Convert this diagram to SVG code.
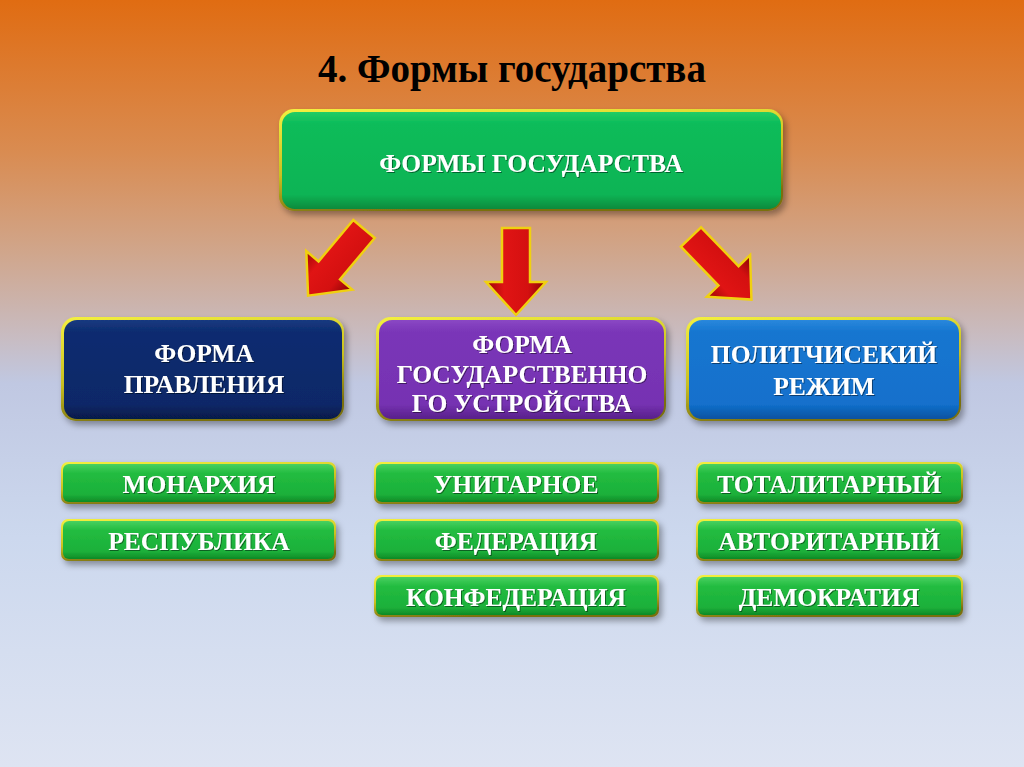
<svg xmlns="http://www.w3.org/2000/svg" width="1024" height="767" viewBox="0 0 1024 767">
  <defs>
    <linearGradient id="bg" x1="0" y1="0" x2="0" y2="1">
      <stop offset="0" stop-color="#e06c12"/>
      <stop offset="0.2" stop-color="#d98c52"/>
      <stop offset="0.33" stop-color="#d0a68c"/>
      <stop offset="0.44" stop-color="#c8bcc2"/>
      <stop offset="0.5" stop-color="#c0c8e2"/>
      <stop offset="0.7" stop-color="#ccd8ee"/>
      <stop offset="1" stop-color="#dee4f2"/>
    </linearGradient>
    <linearGradient id="rim" x1="0" y1="0" x2="0.3" y2="1">
      <stop offset="0" stop-color="#f4f040"/>
      <stop offset="0.6" stop-color="#c8c020"/>
      <stop offset="1" stop-color="#7a7010"/>
    </linearGradient>
    <linearGradient id="gTop" x1="0" y1="0" x2="0" y2="1">
      <stop offset="0" stop-color="#22cc66"/>
      <stop offset="0.12" stop-color="#0cbc5a"/>
      <stop offset="0.85" stop-color="#0ab455"/>
      <stop offset="1" stop-color="#078a3c"/>
    </linearGradient>
    <linearGradient id="gSmall" x1="0" y1="0" x2="0" y2="1">
      <stop offset="0" stop-color="#48d060"/>
      <stop offset="0.25" stop-color="#22bc40"/>
      <stop offset="0.8" stop-color="#1cb03a"/>
      <stop offset="1" stop-color="#0e8a26"/>
    </linearGradient>
    <linearGradient id="gNavy" x1="0" y1="0" x2="0" y2="1">
      <stop offset="0" stop-color="#1a3a80"/>
      <stop offset="0.12" stop-color="#0c2c70"/>
      <stop offset="0.85" stop-color="#0a2868"/>
      <stop offset="1" stop-color="#061a48"/>
    </linearGradient>
    <linearGradient id="gPurple" x1="0" y1="0" x2="0" y2="1">
      <stop offset="0" stop-color="#8a48c4"/>
      <stop offset="0.12" stop-color="#7a36b8"/>
      <stop offset="0.85" stop-color="#7632b2"/>
      <stop offset="1" stop-color="#58208a"/>
    </linearGradient>
    <linearGradient id="gBlue" x1="0" y1="0" x2="0" y2="1">
      <stop offset="0" stop-color="#2a88dc"/>
      <stop offset="0.12" stop-color="#1676d0"/>
      <stop offset="0.85" stop-color="#1270cc"/>
      <stop offset="1" stop-color="#0a52a0"/>
    </linearGradient>
    <linearGradient id="gArrow" x1="0" y1="0" x2="1" y2="0">
      <stop offset="0" stop-color="#9a0606"/>
      <stop offset="0.3" stop-color="#e01414"/>
      <stop offset="0.7" stop-color="#d41010"/>
      <stop offset="1" stop-color="#840404"/>
    </linearGradient>
    <filter id="sh" x="-10%" y="-10%" width="125%" height="135%">
      <feDropShadow dx="3" dy="4" stdDeviation="3" flood-color="#000" flood-opacity="0.35"/>
    </filter>
    <filter id="tsh" x="-5%" y="-20%" width="110%" height="150%">
      <feDropShadow dx="1" dy="1" stdDeviation="0.6" flood-color="#000" flood-opacity="0.45"/>
    </filter>
    <polygon id="arrow" points="-14,0 14,0 14,54 30,54 0,87 -30,54 -14,54"/>
  </defs>
  <style>
    .t { font-family: "Liberation Serif", "Times New Roman", serif; font-weight: bold; fill: #ffffff; text-anchor: middle; font-size: 25.5px; filter: url(#tsh); }
    .title { font-family: "Liberation Serif", "Times New Roman", serif; font-weight: bold; fill: #000000; text-anchor: middle; font-size: 39px; }
    .rim { fill: url(#rim); }
    .arr { fill: url(#gArrow); stroke: #f0d010; stroke-width: 2.5; stroke-linejoin: miter; }
  </style>

  <rect x="0" y="0" width="1024" height="767" fill="url(#bg)"/>

  <text class="title" x="512" y="82">4. Формы государства</text>

  <g id="node-top" filter="url(#sh)">
    <rect class="rim" x="279" y="109" width="504" height="102" rx="15"/>
    <rect x="282" y="112" width="499" height="97" rx="13" fill="url(#gTop)"/>
    <text class="t" x="531" y="172">ФОРМЫ ГОСУДАРСТВА</text>
  </g>

  <g id="connectors">
    <use href="#arrow" class="arr" transform="translate(364,229) rotate(40)"/>
    <use href="#arrow" class="arr" transform="translate(516,228)"/>
    <use href="#arrow" class="arr" transform="translate(691,237) rotate(-44)"/>
  </g>

  <g id="node-pravlenie" filter="url(#sh)">
    <rect class="rim" x="61" y="317" width="283" height="104" rx="15"/>
    <rect x="64" y="320" width="278" height="99" rx="13" fill="url(#gNavy)"/>
    <text class="t" x="204" y="362">ФОРМА</text>
    <text class="t" x="204" y="393">ПРАВЛЕНИЯ</text>
  </g>

  <g id="node-ustroystvo" filter="url(#sh)">
    <rect class="rim" x="376" y="317" width="290" height="104" rx="15"/>
    <rect x="379" y="320" width="285" height="99" rx="13" fill="url(#gPurple)"/>
    <text class="t" x="522" y="353">ФОРМА</text>
    <text class="t" x="522" y="383">ГОСУДАРСТВЕННО</text>
    <text class="t" x="522" y="412">ГО УСТРОЙСТВА</text>
  </g>

  <g id="node-rezhim" filter="url(#sh)">
    <rect class="rim" x="686" y="317" width="275" height="104" rx="15"/>
    <rect x="689" y="320" width="270" height="99" rx="13" fill="url(#gBlue)"/>
    <text class="t" x="824" y="363">ПОЛИТЧИСЕКИЙ</text>
    <text class="t" x="824" y="395">РЕЖИМ</text>
  </g>

  <g id="node-monarchy" filter="url(#sh)">
    <rect class="rim" x="61" y="462" width="275" height="42" rx="7"/>
    <rect x="63" y="464" width="271" height="38" rx="6" fill="url(#gSmall)"/>
    <text class="t" x="199" y="493">МОНАРХИЯ</text>
  </g>
  <g id="node-republic" filter="url(#sh)">
    <rect class="rim" x="61" y="519" width="275" height="42" rx="7"/>
    <rect x="63" y="521" width="271" height="38" rx="6" fill="url(#gSmall)"/>
    <text class="t" x="199" y="550">РЕСПУБЛИКА</text>
  </g>

  <g id="node-unitary" filter="url(#sh)">
    <rect class="rim" x="374" y="462" width="285" height="42" rx="7"/>
    <rect x="376" y="464" width="281" height="38" rx="6" fill="url(#gSmall)"/>
    <text class="t" x="516" y="493">УНИТАРНОЕ</text>
  </g>
  <g id="node-federation" filter="url(#sh)">
    <rect class="rim" x="374" y="519" width="285" height="42" rx="7"/>
    <rect x="376" y="521" width="281" height="38" rx="6" fill="url(#gSmall)"/>
    <text class="t" x="516" y="550">ФЕДЕРАЦИЯ</text>
  </g>
  <g id="node-confederation" filter="url(#sh)">
    <rect class="rim" x="374" y="575" width="285" height="42" rx="7"/>
    <rect x="376" y="577" width="281" height="38" rx="6" fill="url(#gSmall)"/>
    <text class="t" x="516" y="606">КОНФЕДЕРАЦИЯ</text>
  </g>

  <g id="node-totalitarian" filter="url(#sh)">
    <rect class="rim" x="696" y="462" width="267" height="42" rx="7"/>
    <rect x="698" y="464" width="263" height="38" rx="6" fill="url(#gSmall)"/>
    <text class="t" x="829" y="493">ТОТАЛИТАРНЫЙ</text>
  </g>
  <g id="node-authoritarian" filter="url(#sh)">
    <rect class="rim" x="696" y="519" width="267" height="42" rx="7"/>
    <rect x="698" y="521" width="263" height="38" rx="6" fill="url(#gSmall)"/>
    <text class="t" x="829" y="550">АВТОРИТАРНЫЙ</text>
  </g>
  <g id="node-democracy" filter="url(#sh)">
    <rect class="rim" x="696" y="575" width="267" height="42" rx="7"/>
    <rect x="698" y="577" width="263" height="38" rx="6" fill="url(#gSmall)"/>
    <text class="t" x="829" y="606">ДЕМОКРАТИЯ</text>
  </g>
</svg>
